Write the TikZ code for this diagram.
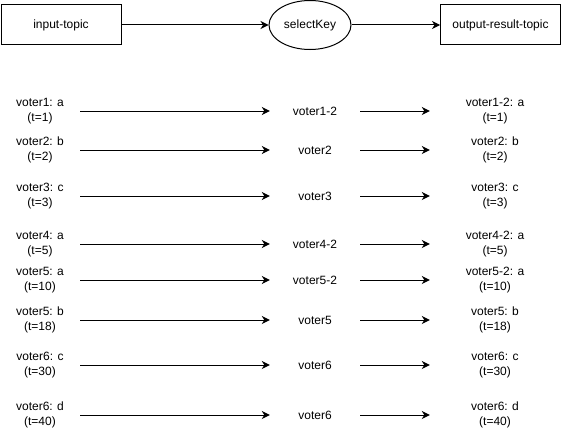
\documentclass[tikz,border=0pt]{standalone}
\usepackage{fontspec}
\setmainfont{Liberation Sans}
\usetikzlibrary{arrows.meta,shapes.geometric}
\begin{document}
\begin{tikzpicture}[x=1pt,y=-1pt,
  every node/.style={font=\fontsize{12}{14.5}\selectfont, inner sep=0pt, align=center},
  topbox/.style={draw, line width=1pt, minimum width=120pt, minimum height=40pt},
  topell/.style={draw, ellipse, line width=1pt, minimum width=82pt, minimum height=49pt},
  lbl/.style={minimum height=28pt},
  conn/.style={line width=1pt, -{Stealth[length=8pt,width=8pt,inset=2.5pt]}}]
\useasboundingbox (0,0) rectangle (561,436);
\node[topbox] (in) at (61,25) {input-topic};
\node[topell] (sk) at (310,25) {selectKey};
\node[topbox] (out) at (500.5,25) {output-result-topic};
\draw[conn] (in) -- (sk);
\draw[conn] (sk) -- (out);
\foreach \i/\y/\a/\b/\c in {
  1/111/{voter1: a\\(t=1)}/{voter1-2}/{voter1-2: a\\(t=1)},
  2/150/{voter2: b\\(t=2)}/{voter2}/{voter2: b\\(t=2)},
  3/196/{voter3: c\\(t=3)}/{voter3}/{voter3: c\\(t=3)},
  4/244/{voter4: a\\(t=5)}/{voter4-2}/{voter4-2: a\\(t=5)},
  5/280/{voter5: a\\(t=10)}/{voter5-2}/{voter5-2: a\\(t=10)},
  6/320/{voter5: b\\(t=18)}/{voter5}/{voter5: b\\(t=18)},
  7/365/{voter6: c\\(t=30)}/{voter6}/{voter6: c\\(t=30)},
  8/415/{voter6: d\\(t=40)}/{voter6}/{voter6: d\\(t=40)}} {
  \node[lbl, minimum width=80pt] (l\i) at (40,\y) {\a};
  \node[lbl, minimum width=90pt] (m\i) at (315,\y) {\b};
  \node[lbl, minimum width=130pt] (r\i) at (495,\y) {\c};
  \draw[conn] (l\i) -- (m\i);
  \draw[conn] (m\i) -- (r\i);
}
\end{tikzpicture}
\end{document}
